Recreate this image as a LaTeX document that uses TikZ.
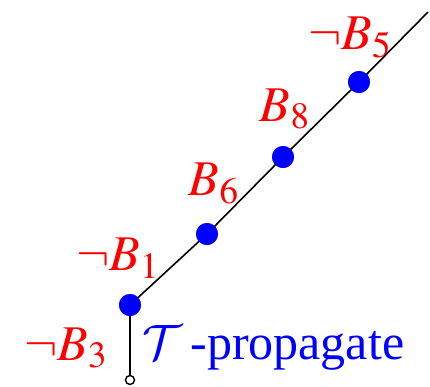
\documentclass[tikz,border=0pt]{standalone}
\usepackage{mathptmx}
\DeclareMathAlphabet{\mathcal}{OMS}{cmsy}{m}{n}
\usepackage{fontspec}
\setmainfont{Liberation Serif}
\usepackage{xcolor}
\usetikzlibrary{positioning}
\tikzset{
  dotnode/.style={circle, fill=blue, draw=none, minimum size=11pt, inner sep=0pt},
  endnode/.style={circle, draw=black, fill=white, line width=0.7pt, minimum size=4.5pt, inner sep=0pt},
  litlabel/.style={text=red, font=\fontsize{25}{28}\selectfont, inner sep=0pt},
  rulelabel/.style={text=blue, font=\fontsize{25}{28}\selectfont, inner sep=0pt},
  trailedge/.style={draw=black, line width=0.8pt},
}
\begin{document}
\begin{tikzpicture}[x=0.5pt, y=-0.5pt]
  \useasboundingbox (0,0) rectangle (430,387);
  \node[endnode] (root) at (130,380) {};
  \node[dotnode] (d1) at (130,305) {};
  \node[dotnode] (d2) at (207,234) {};
  \node[dotnode] (d3) at (283,157) {};
  \node[dotnode] (d4) at (359,82) {};
  \coordinate (top) at (428,12);
  \draw[trailedge] (root) -- (d1.center);
  \draw[trailedge] (d1.center) -- (d2.center) -- (d3.center) -- (d4.center) -- (top);
  \node[dotnode] at (d1) {};
  \node[dotnode] at (d2) {};
  \node[dotnode] at (d3) {};
  \node[dotnode] at (d4) {};
  % literals on the trail
  \node[litlabel] (l3) at (66,348) {$\neg B_3$};
  \node[litlabel] (l1) at (118,258) {$\neg B_1$};
  \node[litlabel] (l2) at (214,184) {$B_6$};
  \node[litlabel] (l4) at (285,109) {$B_8$};
  \node[litlabel] (l5) at (350,38) {$\neg B_5$};
  \node[rulelabel, anchor=west] (prop) at (142,348) {$\mathcal{T}$\,-propagate};
\end{tikzpicture}
\end{document}
